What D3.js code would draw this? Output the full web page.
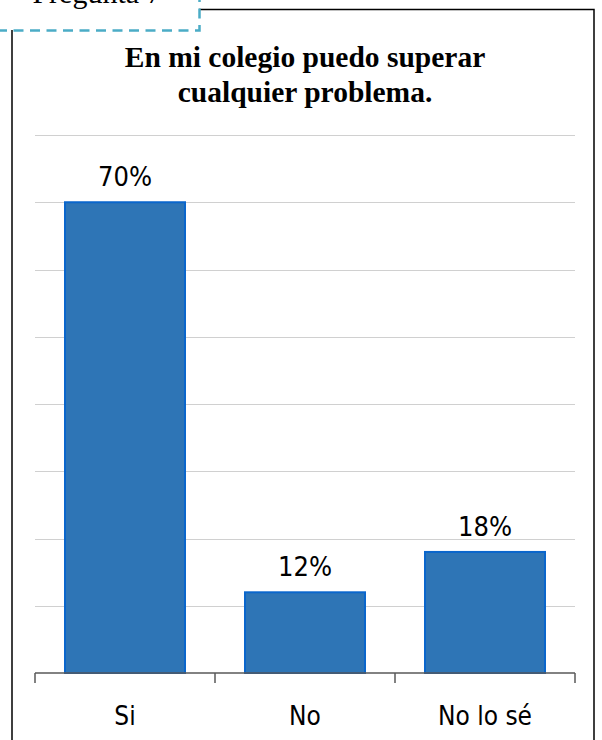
<!DOCTYPE html>
<html><head><meta charset="utf-8">
<script src="https://cdn.jsdelivr.net/npm/d3@7"></script>
<style>html,body{margin:0;padding:0;background:#fff;}svg{display:block;}</style>
</head><body>
<script>
const categories = ["Si", "No", "No lo sé"];
const values = [70, 12, 18];
const valueLabels = ["70%", "12%", "18%"];
const gridTicks = [0, 10, 20, 30, 40, 50, 60, 70, 80];
const titleLines = ["En mi colegio puedo superar", "cualquier problema."];
const headerText = "Pregunta 7";

const W = 602, H = 740;
const svg = d3.select("body").append("svg").attr("width", W).attr("height", H);
const sansFont = "'DejaVu Sans Condensed', 'DejaVu Sans', Verdana, sans-serif";
const serifFont = "'Liberation Serif', 'Times New Roman', serif";

// outer frame
svg.append("path")
  .attr("d", "M199,9.5 H594 V745 M12,30 V745")
  .attr("fill", "none").attr("stroke", "#000").attr("stroke-width", 1.5);

// header dashed box
svg.append("path")
  .attr("d", "M-3,30.5 H199.5 V-5")
  .attr("fill", "none").attr("stroke", "#4bacc6").attr("stroke-width", 2.5)
  .attr("stroke-dasharray", "10,6.5");
svg.append("text").attr("x", 97).attr("y", 3).attr("text-anchor", "middle")
  .attr("font-family", serifFont).attr("font-size", 30)
  .text(headerText);

// title
svg.append("g").selectAll("text").data(titleLines).join("text")
  .attr("x", 305).attr("y", (d, i) => 67 + i * 35)
  .attr("text-anchor", "middle")
  .attr("font-family", serifFont)
  .attr("font-weight", "bold").attr("font-size", 29.5)
  .text(d => d);

const x = d3.scaleBand().domain(categories).range([35, 575]).paddingInner(1/3).paddingOuter(1/6);
const y = d3.scaleLinear().domain([0, 80]).range([673, 135]);

// gridlines
svg.append("g").selectAll("line").data(gridTicks.filter(d => d > 0)).join("line")
  .attr("x1", 35).attr("x2", 575)
  .attr("y1", d => Math.round(y(d)) + 0.5).attr("y2", d => Math.round(y(d)) + 0.5)
  .attr("stroke", "#d0d0d0").attr("stroke-width", 1);

// bars
svg.append("g").selectAll("rect").data(values).join("rect")
  .attr("x", (d, i) => x(categories[i]))
  .attr("width", x.bandwidth())
  .attr("y", d => y(d))
  .attr("height", d => y(0) - y(d))
  .attr("fill", "#2e75b6").attr("stroke", "#0a66cc").attr("stroke-width", 2);

// value labels
svg.append("g").selectAll("text").data(values).join("text")
  .attr("x", (d, i) => x(categories[i]) + x.bandwidth() / 2)
  .attr("y", d => y(d) - 16)
  .attr("text-anchor", "middle")
  .attr("font-family", sansFont).attr("font-size", 27)
  .attr("fill", "#000")
  .text((d, i) => valueLabels[i]);

// x axis
const axisG = svg.append("g").attr("transform", `translate(0,${y(0)})`);
axisG.append("line").attr("x1", 35).attr("x2", 575).attr("y1", 0).attr("y2", 0)
  .attr("stroke", "#595959").attr("stroke-width", 1.5);
const tickXs = categories.map(c => x(c) - x.step() * x.paddingInner() / 2).concat([575]);
axisG.selectAll("line.tick").data(tickXs).join("line").attr("class", "tick")
  .attr("x1", d => d).attr("x2", d => d).attr("y1", 0).attr("y2", 10)
  .attr("stroke", "#595959").attr("stroke-width", 1.5);
axisG.selectAll("text").data(categories).join("text")
  .attr("x", d => x(d) + x.bandwidth() / 2).attr("y", 52)
  .attr("text-anchor", "middle")
  .attr("font-family", sansFont).attr("font-size", 26)
  .attr("fill", "#000")
  .text(d => d);
</script>
</body></html>
